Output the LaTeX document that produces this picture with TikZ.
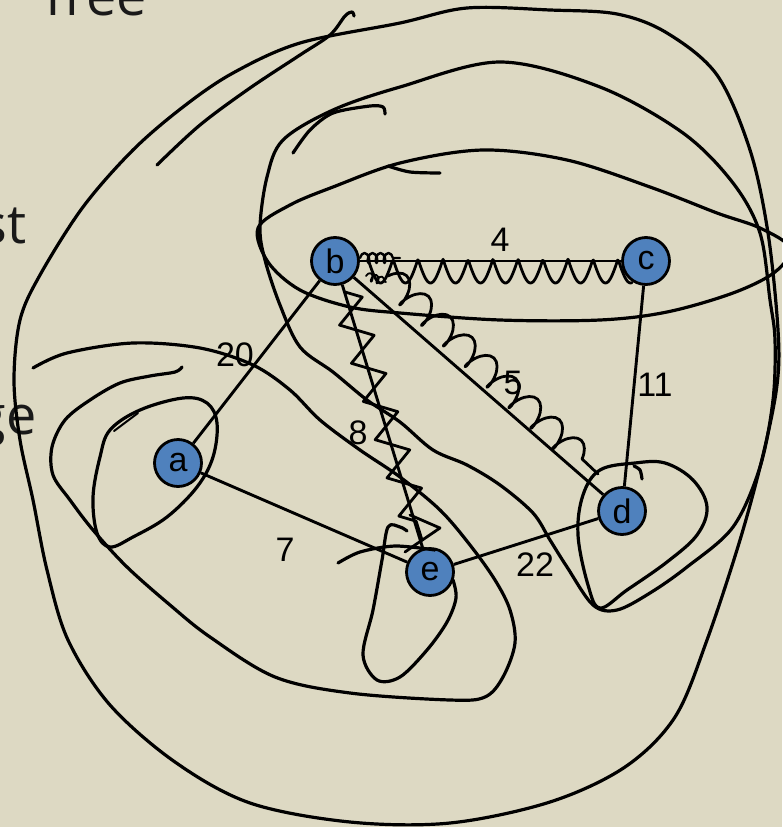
\documentclass[tikz,border=0pt]{standalone}
\usepackage{fontspec}
\setmainfont{Liberation Sans}
\newfontfamily\slidefont{Open Sans}
\usetikzlibrary{decorations.pathmorphing}
\definecolor{bgtan}{HTML}{DDD9C3}
\definecolor{nodeblue}{HTML}{4F81BD}
\begin{document}
\begin{tikzpicture}[x=1pt,y=-1pt,
  vertex/.style={circle, draw=black, line width=2.8pt, fill=nodeblue, minimum size=47pt, inner sep=0pt, font=\fontsize{34}{34}\selectfont},
  edge/.style={draw=black, line width=2.9pt},
  wlabel/.style={font=\fontsize{34}{34}\selectfont, inner sep=0pt},
  ink/.style={draw=black, line width=3.2pt, line cap=round, line join=round},
  slidetext/.style={font=\slidefont\fontsize{54}{54}\selectfont, inner sep=0pt, text=black!90}
]
\fill[bgtan] (0,0) rectangle (782,827);
\useasboundingbox (0,0) rectangle (782,827);

% slide text (cut by the page edge, as in the reference)
\node[slidetext, anchor=base west] (tree) at (38,15) {Tree};
\node[slidetext, anchor=base east] (st) at (27,243) {st};
\node[slidetext, anchor=base east] (ge) at (37,434) {ge};

% graph nodes
\node[vertex] (b) at (335,261) {b};
\node[vertex] (c) at (646,261) {c};
\node[vertex] (a) at (178,463) {a};
\node[vertex] (d) at (622,511) {d};
\node[vertex] (e) at (430,572) {e};

% graph edges
\draw[edge] (b) -- (c);
\draw[edge] (b) -- (a);
\draw[edge] (b) -- (d);
\draw[edge] (b) -- (e);
\draw[edge] (c) -- (d);
\draw[edge] (a) -- (e);
\draw[edge] (e) -- (d);

% edge weights
\node[wlabel] (w4) at (500,240) {4};
\node[wlabel] (w5) at (513,383) {5};
\node[wlabel] (w11) at (655,385) {11};
\node[wlabel] (w20) at (235,355) {20};
\node[wlabel] (w8) at (358,433) {8};
\node[wlabel] (w7) at (285,550) {7};
\node[wlabel] (w22) at (535,565) {22};

% ---- hand-drawn ink ----
% outermost loop
\draw[ink] plot[smooth cycle, tension=0.55] coordinates {(400,23) (300,43) (233,73) (183,107) (133,150) (83,207) (40,275) (20,320) (14,380) (20,440) (33,500) (47,570) (68,640) (110,705) (175,762) (250,803) (350,822) (450,823) (550,802) (625,767) (675,717) (707,640) (740,540) (763,455) (777,385) (778,330) (768,233) (750,150) (717,75) (667,33) (617,14) (550,10) (467,8)};
% extra top stroke
\draw[ink] plot[smooth, tension=0.55] coordinates {(157,165) (200,125) (250,88) (300,55) (330,35) (345,16) (352,12) (354,16)};
% loop around b, c, d
\draw[ink] plot[smooth cycle, tension=0.55] coordinates {(400,87) (500,62) (600,87) (683,133) (733,183) (760,233) (770,300) (775,340) (773,400) (760,467) (733,527) (687,567) (650,593) (617,610) (593,605) (567,567) (550,540) (533,513) (500,485) (467,465) (433,450) (400,422) (367,400) (333,372) (300,347) (280,305) (265,260) (260,227) (267,177) (283,140) (333,110)};
% short strokes near top
\draw[ink] plot[smooth, tension=0.5] coordinates {(293,153) (310,130) (333,113) (370,106) (383,107) (385,114)};
\draw[ink] plot[smooth, tension=0.5] coordinates {(388,166) (410,172) (440,173)};
% ellipse around b and c
\draw[ink] plot[smooth cycle, tension=0.55] coordinates {(258,228) (290,205) (333,187) (400,163) (483,150) (567,160) (650,187) (717,213) (760,228) (790,248) (775,272) (733,293) (667,312) (600,320) (500,320) (400,313) (350,307) (300,290) (268,262)};
% loop around a
\draw[ink] plot[smooth cycle, tension=0.6] coordinates {(110,430) (140,410) (183,398) (207,403) (217,423) (213,457) (197,487) (167,517) (133,537) (110,547) (97,533) (93,497) (100,457)};
\draw[ink, line width=2pt] (114,431) -- (138,413);
% loop around a and e
\draw[ink] plot[smooth, tension=0.55] coordinates {(182,367) (175,372) (150,376) (120,383) (90,400) (65,420) (52,447) (53,475) (70,500) (93,530) (127,567) (170,605) (210,637) (275,677) (350,693) (450,700) (485,697) (503,677) (515,643) (510,610) (495,580) (470,545) (440,510) (400,477) (360,450) (320,420) (290,390) (253,365) (200,348) (133,343) (67,353) (33,368)};
% loop around e
\draw[ink] plot[smooth, tension=0.55] coordinates {(407,531) (400,527) (388,527) (382,560) (373,610) (363,655) (377,680) (400,677) (427,650) (447,622) (456,598) (453,580)};
\draw[ink] plot[smooth, tension=0.5] coordinates {(338,563) (360,552) (395,546) (435,550)};
% loop around d
\draw[ink] plot[smooth cycle, tension=0.6] coordinates {(600,470) (635,463) (665,463) (693,480) (707,507) (697,535) (667,562) (627,590) (600,608) (588,585) (578,535) (583,495)};
\draw[ink] plot[smooth, tension=0.5] coordinates {(634,466) (640,470) (642,479)};

% squiggles along the edges
\draw[ink, line width=2.8pt] plot[domain=0:264, samples=240, smooth] ({368+\x}, {259+24*abs(sin(\x*7.2))});
\draw[ink, line width=2.4pt, decorate, decoration={coil, amplitude=5pt, segment length=8pt}] (360,258) -- (400,258);
\draw[ink, line width=1.8pt, decorate, decoration={coil, amplitude=4pt, segment length=6pt}] (366,276) -- (386,282);
\draw[ink, line width=2.8pt, decorate, decoration={coil, aspect=0.45, amplitude=13pt, segment length=30pt}] (388,276) -- (598,474);
\draw[ink, line width=2.8pt, decorate, decoration={zigzag, amplitude=15pt, segment length=40pt}] (345,292) -- (422,540);
\draw[ink, line width=2.8pt] plot coordinates {(410,515) (440,528) (415,545) (405,552)};
\end{tikzpicture}
\end{document}
